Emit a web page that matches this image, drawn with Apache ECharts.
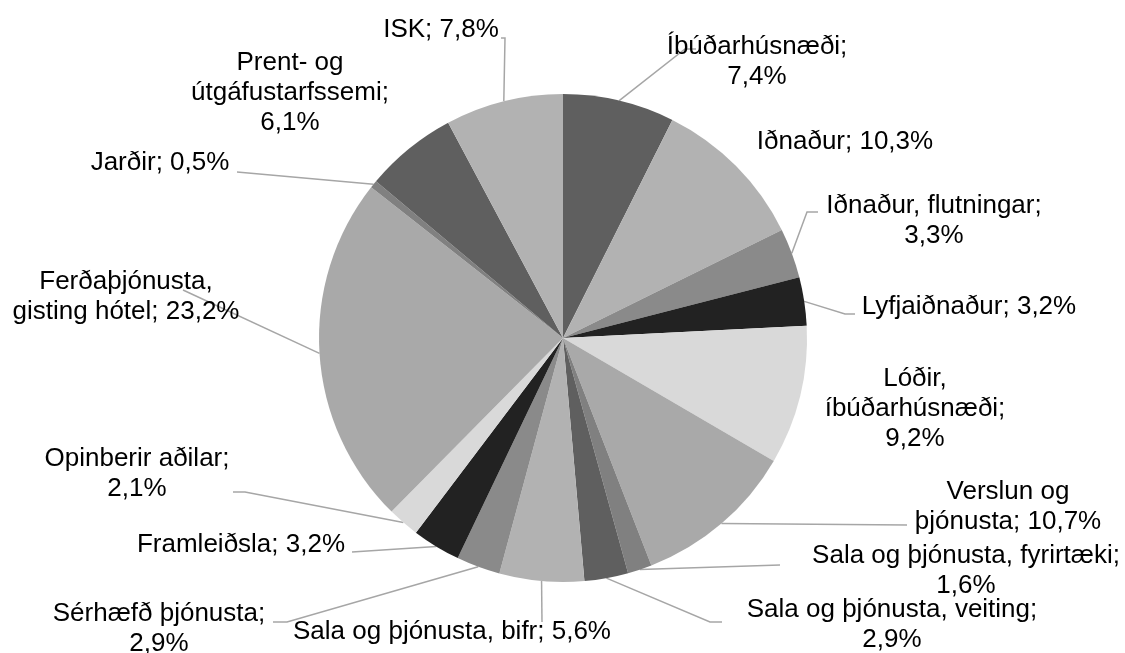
<!DOCTYPE html>
<html>
<head>
<meta charset="utf-8">
<script src="https://cdn.jsdelivr.net/npm/echarts@6/dist/echarts.min.js"></script>
<style>
  html, body { margin: 0; padding: 0; background: #fff; }
  #chart { width: 1125px; height: 653px; }
</style>
</head>
<body>
<div id="chart"></div>
<script>
// slices, clockwise from 12 o'clock
const categories = [
  'Íbúðarhúsnæði', 'Iðnaður', 'Iðnaður, flutningar', 'Lyfjaiðnaður',
  'Lóðir, íbúðarhúsnæði', 'Verslun og þjónusta', 'Sala og þjónusta, fyrirtæki',
  'Sala og þjónusta, veiting', 'Sala og þjónusta, bifr', 'Sérhæfð þjónusta',
  'Framleiðsla', 'Opinberir aðilar', 'Ferðaþjónusta, gisting hótel', 'Jarðir',
  'Prent- og útgáfustarfssemi', 'ISK'
];
const shares = [7.4, 10.3, 3.3, 3.2, 9.2, 10.7, 1.6, 2.9, 5.6, 2.9, 3.2, 2.1, 23.2, 0.5, 6.1, 7.8];

// label text as wrapped in the picture (value is appended)
const labelHeads = [
  'Íbúðarhúsnæði;\n', 'Iðnaður; ', 'Iðnaður, flutningar;\n', 'Lyfjaiðnaður; ',
  'Lóðir,\níbúðarhúsnæði;\n', 'Verslun og\nþjónusta; ', 'Sala og þjónusta, fyrirtæki;\n',
  'Sala og þjónusta, veiting;\n', 'Sala og þjónusta, bifr; ', 'Sérhæfð þjónusta;\n',
  'Framleiðsla; ', 'Opinberir aðilar;\n', 'Ferðaþjónusta,\ngisting hótel; ', 'Jarðir; ',
  'Prent- og\nútgáfustarfssemi;\n', 'ISK; '
];

// layout: label centres and the label-side end of each leader line
const labelCenters = [
  [757, 62], [845, 142], [934, 221], [969, 307], [915, 409], [1008, 507],
  [966, 571], [892, 625], [452, 632], [159, 629], [241, 545], [137, 474],
  [126, 297], [160, 163], [290, 93], [441, 30]
];
const leaderEnds = [
  [[685, 49], [696, 49]], null, [[807, 212], [818, 212]], [[845, 314], [855, 314]],
  null, [[907, 525]], [[780, 565]], [[710, 622], [722, 622]], [[542, 622]],
  [[287, 622], [273, 622]], [[352, 552]], [[245, 492], [233, 492]],
  [[183, 290]], [[237, 172]], null, [[505, 38], [501, 38]]
];

const palette = ['#5f5f5f', '#b2b2b2', '#8a8a8a', '#222222', '#d9d9d9', '#a9a9a9', '#808080'];

const pieData = categories.map(function (name, i) {
  return {
    name: name,
    value: shares[i],
    labelLine: { show: leaderEnds[i] !== null }
  };
});

const chart = echarts.init(document.getElementById('chart'));
chart.setOption({
  animation: false,
  backgroundColor: '#ffffff',
  color: palette,
  series: [{
    type: 'pie',
    center: [563, 338],
    radius: 244,
    startAngle: 90,
    clockwise: true,
    avoidLabelOverlap: false,
    data: pieData,
    itemStyle: { borderWidth: 0 },
    emphasis: { disabled: true },
    label: {
      show: true,
      position: 'outside',
      color: '#000',
      fontFamily: '"Liberation Sans", Arial, sans-serif',
      fontSize: 26,
      lineHeight: 30,
      align: 'center',
      formatter: function (p) {
        return labelHeads[p.dataIndex] + p.value.toFixed(1).replace('.', ',') + '%';
      }
    },
    labelLine: {
      show: true,
      length: 10,
      length2: 10,
      lineStyle: { color: '#a6a6a6', width: 1.5 }
    },
    labelLayout: function (params) {
      const i = params.dataIndex;
      const c = labelCenters[i];
      const out = { x: c[0], y: c[1], align: 'center', verticalAlign: 'middle' };
      const ends = leaderEnds[i];
      if (ends && params.labelLinePoints && params.labelLinePoints.length) {
        out.labelLinePoints = [params.labelLinePoints[0]].concat(ends);
      }
      return out;
    }
  }]
});
</script>
</body>
</html>
